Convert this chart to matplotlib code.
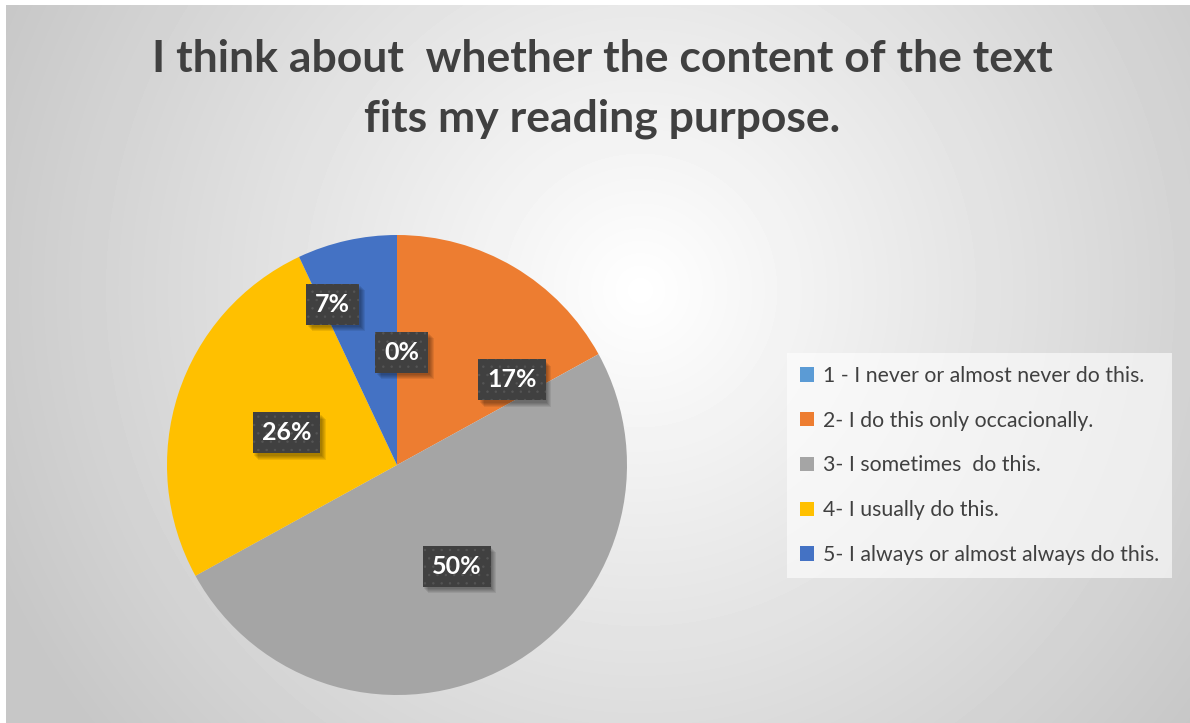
"""Pie chart of survey answers: reading-purpose question."""
import matplotlib
matplotlib.use("Agg")
import matplotlib.pyplot as plt
from matplotlib.patches import Patch, Rectangle
from matplotlib.transforms import IdentityTransform
import numpy as np

# Survey data
categories = [
    "1 - I never or almost never do this.",
    "2- I do this only occacionally.",
    "3- I sometimes  do this.",
    "4- I usually do this.",
    "5- I always or almost always do this.",
]
shares = [0, 17, 50, 26, 7]  # percent
title = "I think about  whether the content of the text\nfits my reading purpose."

colors = ["#5B9BD5", "#ED7D31", "#A5A5A5", "#FFC000", "#4472C4"]
# label centres in pie units (radius = 1)
label_xy = [(0.02, 0.49), (0.50, 0.37), (0.26, -0.44), (-0.48, 0.14), (-0.28, 0.70)]

W, H = 1190, 723
plt.rcParams["font.family"] = ["Lato", "DejaVu Sans"]
plt.rcParams["hatch.linewidth"] = 0.5

fig = plt.figure(figsize=(W / 100, H / 100), dpi=100, facecolor="white")

# radial gradient backdrop
bg = fig.add_axes([6 / W, 0, (W - 6) / W, (H - 5) / H], zorder=-5)
yy, xx = np.mgrid[5:H, 6:W]
d = np.hypot(xx - 640, yy - 290)
shade = np.clip(1.0 - 0.22 * d / 700, 0.78, 1.0)
bg.imshow(shade, cmap="gray", vmin=0, vmax=1, aspect="auto",
          extent=(0, 1, 0, 1), interpolation="bilinear")
bg.set_axis_off()

fig.text(602 / W, 1 - 89 / H, title, ha="center", va="center",
         fontsize=32, fontweight="bold", color="#404040", linespacing=1.62)

cx, cy, R = 397, 465, 230
ax = fig.add_axes([(cx - R) / W, (H - cy - R) / H, 2 * R / W, 2 * R / H])
ax.pie(shares, colors=colors, startangle=90, counterclock=False, radius=1,
       wedgeprops=dict(linewidth=0))
ax.set_xlim(-1, 1)
ax.set_ylim(-1, 1)
ax.set_axis_off()

labels = []
for v, (x, y) in zip(shares, label_xy):
    t = ax.text(x, y, f"{v}%", ha="center", va="center", fontsize=18,
                fontweight="bold", color="white", zorder=5,
                bbox=dict(boxstyle="square,pad=0.36", fc="#404040",
                          ec="#555555", lw=0, hatch=".."))
    labels.append(t)

# soft drop shadow under each label box: faint offset rectangles in pixels
fig.canvas.draw()
for t in labels:
    bb = t.get_bbox_patch().get_window_extent()
    for k in (1.5, 2.5, 3.5, 4.5, 5.5):
        ax.add_patch(Rectangle((bb.x0 + k, bb.y0 - k - 1), bb.width, bb.height,
                               transform=IdentityTransform(), fc="black",
                               ec="none", alpha=0.08, zorder=4))

handles = [Patch(facecolor=c, edgecolor="none") for c in colors]
leg = fig.legend(handles, categories, loc="upper left",
                 bbox_to_anchor=(787 / W, 1 - 353 / H), borderaxespad=0,
                 fontsize=15.3, labelcolor="#404040", frameon=True,
                 handlelength=0.68, handleheight=0.68, handletextpad=0.4,
                 labelspacing=1.17, borderpad=0.6, fancybox=False)
leg.get_frame().set_facecolor("white")
leg.get_frame().set_alpha(0.6)
leg.get_frame().set_edgecolor("none")

fig.savefig("out.png", dpi=100, facecolor="white")
